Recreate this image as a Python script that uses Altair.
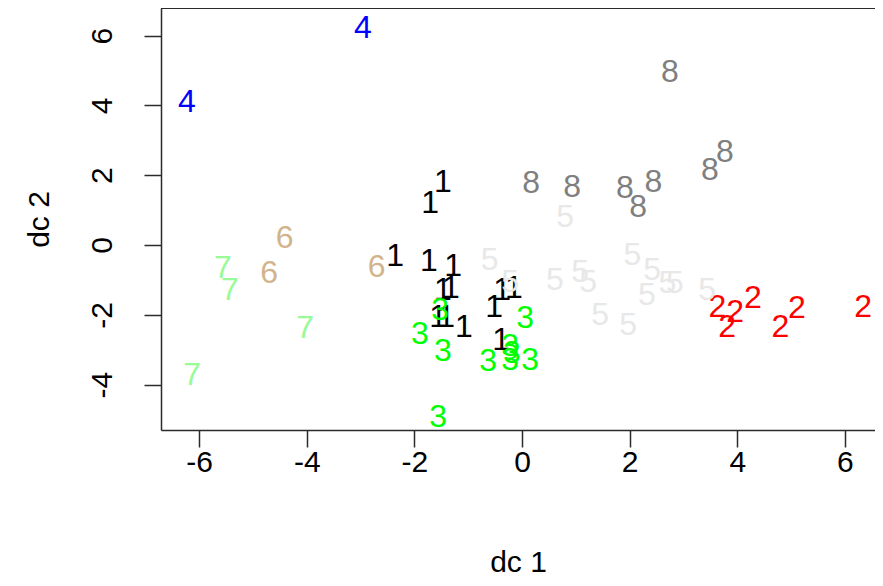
import altair as alt
import pandas as pd

# Discriminant coordinates, per class label
g1_x = [-1.47, -1.71, -2.36, -1.73, -1.28, -1.47, -1.32, -1.56, -1.41, -1.08, -0.52, -0.37, -0.15, -0.39]
g1_y = [1.81, 1.20, -0.32, -0.46, -0.60, -1.29, -1.23, -2.06, -2.06, -2.35, -1.78, -1.29, -1.23, -2.72]
g2_x = [3.63, 3.96, 3.81, 4.29, 5.11, 4.80, 6.34]
g2_y = [-1.78, -1.92, -2.35, -1.52, -1.81, -2.35, -1.78]
g3_x = [-1.52, -1.90, -1.47, -0.63, -0.22, -0.19, -0.22, 0.15, 0.06, -1.56]
g3_y = [-1.86, -2.55, -3.04, -3.32, -2.89, -3.10, -3.30, -3.30, -2.09, -4.93]
g4_x = [-2.96, -6.23]
g4_y = [6.22, 4.10]
g5_x = [0.80, -0.60, 0.61, 1.08, 1.23, 2.05, 2.42, 2.32, 2.70, 2.84, 1.45, 1.97, 3.44, -0.22]
g5_y = [0.80, -0.43, -1.00, -0.77, -1.06, -0.29, -0.72, -1.43, -1.09, -1.09, -2.01, -2.29, -1.29, -1.06]
g6_x = [-4.41, -4.70, -2.70]
g6_y = [0.20, -0.80, -0.63]
g7_x = [-5.56, -5.43, -4.03, -6.13]
g7_y = [-0.66, -1.29, -2.38, -3.73]
g8_x = [2.75, 0.17, 0.93, 1.91, 2.16, 2.44, 3.49, 3.77]
g8_y = [4.96, 1.78, 1.66, 1.63, 1.09, 1.81, 2.15, 2.67]

groups = ["1", "2", "3", "4", "5", "6", "7", "8"]
colors = ["#000000", "#FF0000", "#00FF00", "#0000FF", "#E8E8E8", "#D2B48C", "#98FB98", "#7F7F7F"]
x_ticks = [-6, -4, -2, 0, 2, 4, 6]
y_ticks = [-4, -2, 0, 2, 4, 6]

series = [("1", g1_x, g1_y), ("2", g2_x, g2_y), ("3", g3_x, g3_y), ("4", g4_x, g4_y),
          ("5", g5_x, g5_y), ("6", g6_x, g6_y), ("7", g7_x, g7_y), ("8", g8_x, g8_y)]
rows = []
for g, xs, ys in series:
    for xv, yv in zip(xs, ys):
        rows.append({"x": xv, "y": yv, "group": g})
df = pd.DataFrame(rows)

FONT = "Liberation Sans"
FS = 30
LINE = "#2b2b2b"
W, H = 714, 422

points = alt.Chart(df).mark_text(
    font=FONT, fontSize=32, baseline="middle", align="center"
).encode(
    x=alt.X("x:Q",
            scale=alt.Scale(domain=[-6.71, 6.56], nice=False, zero=False),
            axis=alt.Axis(values=x_ticks, grid=False, domain=True, domainColor=LINE, domainWidth=1.5,
                          tickSize=17, tickWidth=1.5,
                          tickColor=LINE, labelFont=FONT, labelFontSize=FS, labelColor="black",
                          labelPadding=0, labelExpr="'' + datum.value",
                          title="dc 1", titleFont=FONT, titleFontSize=FS, titleFontWeight="normal",
                          titleColor="black", titleY=147, titleBaseline="bottom")),
    y=alt.Y("y:Q",
            scale=alt.Scale(domain=[-5.30, 6.79], nice=False, zero=False),
            axis=alt.Axis(values=y_ticks, grid=False, domain=True, domainColor=LINE, domainWidth=1.5,
                          tickSize=17, tickWidth=1.5,
                          tickColor=LINE, labelFont=FONT, labelFontSize=FS, labelColor="black",
                          labelAngle=270, labelAlign="center", labelBaseline="alphabetic",
                          labelPadding=33, labelExpr="'' + datum.value",
                          title="dc 2", titleFont=FONT, titleFontSize=FS, titleFontWeight="normal",
                          titleColor="black", titleAngle=270, titleAlign="center",
                          titleBaseline="middle", titleX=-122)),
    text=alt.Text("group:N"),
    color=alt.Color("group:N", scale=alt.Scale(domain=groups, range=colors), legend=None),
)

top_line = alt.Chart(df).mark_rule(color=LINE, strokeWidth=1.5).encode(
    x=alt.value(0), x2=alt.value(W + 10), y=alt.value(0)
)

chart = alt.layer(top_line, points).properties(
    width=W, height=H,
    autosize=alt.AutoSizeParams(type="none"),
    padding={"left": 153, "top": 0, "right": 0, "bottom": 148},
).configure(
    background="white"
).configure_view(
    stroke=None
)

chart.save("out.html", embed_options={"renderer": "svg", "actions": False})
